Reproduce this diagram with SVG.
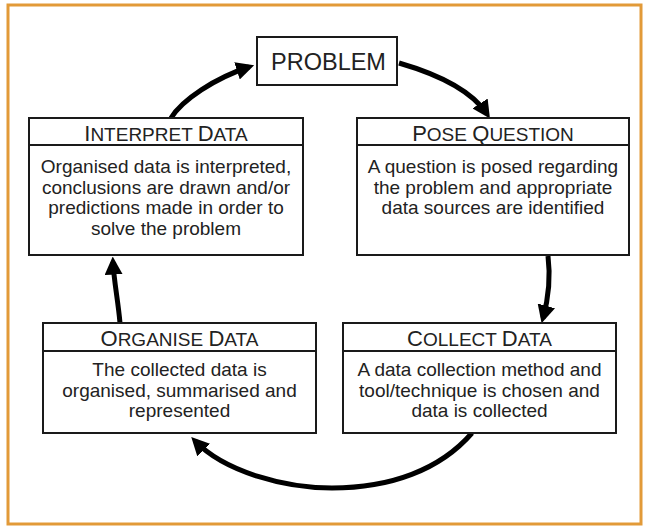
<svg xmlns="http://www.w3.org/2000/svg" width="648" height="527" viewBox="0 0 648 527">
  <defs>
    <marker id="ah" viewBox="0 0 10 10" refX="7" refY="5" markerWidth="3.6" markerHeight="3.6" orient="auto" markerUnits="strokeWidth">
      <path d="M0,0 L10,5 L0,10 z" fill="#000"/>
    </marker>
    <style>
      .box { fill: #fff; stroke: #1a1a1a; stroke-width: 2; }
      .div { stroke: #1a1a1a; stroke-width: 2; }
      .hdr { font-family: "Liberation Sans", Arial, sans-serif; font-size: 19px; fill: #222; text-anchor: middle; }
      .big { font-size: 22px; }
      .body { font-family: "Liberation Sans", Arial, sans-serif; font-size: 19px; fill: #222; text-anchor: middle; }
      .arr { fill: none; stroke: #000; stroke-width: 5; marker-end: url(#ah); }
    </style>
  </defs>
  <rect x="0" y="0" width="648" height="527" fill="#fff"/>
  <rect x="8" y="5" width="633" height="519" fill="#fff" stroke="#E29A38" stroke-width="3"/>

  <g id="connectors">
    <path class="arr" d="M171,118 C182,100 215,78 249,67"/>
    <path class="arr" d="M399,63 C430,72 470,88 487,114"/>
    <path class="arr" d="M548,256 C551,280 548,300 543,318"/>
    <path class="arr" d="M472,433 C440,470 390,488 332,488 C285,488 225,472 195,441"/>
    <path class="arr" d="M120,323 C118,300 114,282 113,262"/>
  </g>

  <g id="problem">
    <rect class="box" x="257" y="37" width="140" height="48"/>
    <text x="328.5" y="70" font-family="Liberation Sans, Arial, sans-serif" font-size="23.5" fill="#222" text-anchor="middle">PROBLEM</text>
  </g>

  <g id="interpret-data">
    <rect class="box" x="29" y="118" width="274" height="137"/>
    <line class="div" x1="29" y1="145" x2="303" y2="145"/>
    <text class="hdr" x="166" y="141"><tspan class="big">I</tspan>NTERPRET <tspan class="big">D</tspan>ATA</text>
    <text class="body" x="166" y="173">Organised data is interpreted,</text>
    <text class="body" x="166" y="194">conclusions are drawn and/or</text>
    <text class="body" x="166" y="214">predictions made in order to</text>
    <text class="body" x="166" y="235">solve the problem</text>
  </g>

  <g id="pose-question">
    <rect class="box" x="357" y="118" width="272" height="137"/>
    <line class="div" x1="357" y1="145" x2="629" y2="145"/>
    <text class="hdr" x="493" y="141"><tspan class="big">P</tspan>OSE <tspan class="big">Q</tspan>UESTION</text>
    <text class="body" x="493" y="173">A question is posed regarding</text>
    <text class="body" x="493" y="194">the problem and appropriate</text>
    <text class="body" x="493" y="214">data sources are identified</text>
  </g>

  <g id="organise-data">
    <rect class="box" x="43" y="323" width="273" height="110"/>
    <line class="div" x1="43" y1="351" x2="316" y2="351"/>
    <text class="hdr" x="179.5" y="346"><tspan class="big">O</tspan>RGANISE <tspan class="big">D</tspan>ATA</text>
    <text class="body" x="179.5" y="376">The collected data is</text>
    <text class="body" x="179.5" y="397">organised, summarised and</text>
    <text class="body" x="179.5" y="417">represented</text>
  </g>

  <g id="collect-data">
    <rect class="box" x="343" y="323" width="273" height="110"/>
    <line class="div" x1="343" y1="351" x2="616" y2="351"/>
    <text class="hdr" x="479.5" y="346"><tspan class="big">C</tspan>OLLECT <tspan class="big">D</tspan>ATA</text>
    <text class="body" x="479.5" y="376">A data collection method and</text>
    <text class="body" x="479.5" y="397">tool/technique is chosen and</text>
    <text class="body" x="479.5" y="417">data is collected</text>
  </g>
</svg>
